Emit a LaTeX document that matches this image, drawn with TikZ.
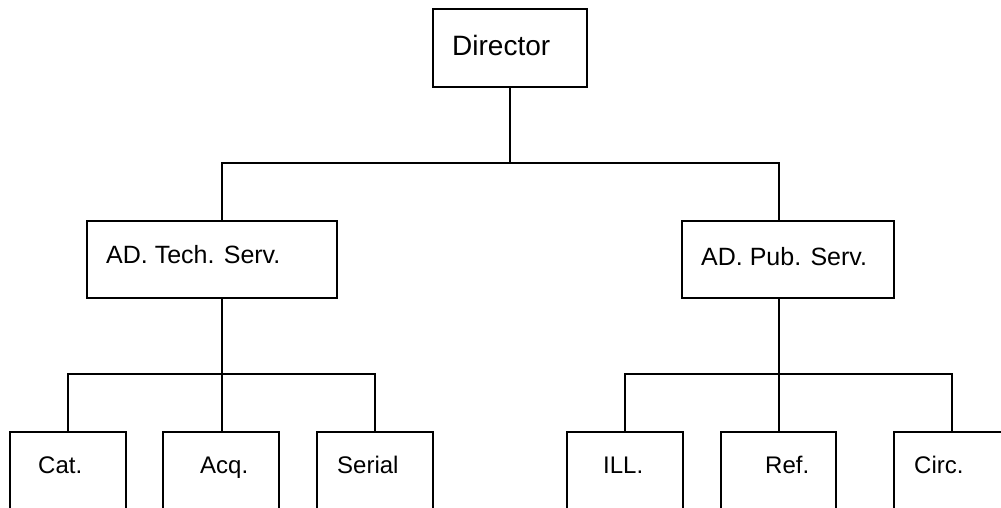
\documentclass[tikz,border=0pt]{standalone}
\usepackage{fontspec}
\setmainfont{Liberation Sans}
\begin{document}
\begin{tikzpicture}[x=1pt,y=-1pt,
  box/.style={draw=black, line width=1.8pt, rectangle, inner sep=0pt, fill=white},
  wire/.style={draw=black, line width=1.8pt},
  lbl/.style={anchor=base west, inner sep=0pt, font=\fontsize{24}{28}\selectfont},
  midlbl/.style={anchor=base west, inner sep=0pt, font=\fontsize{25}{30}\selectfont},
  biglbl/.style={anchor=base west, inner sep=0pt, font=\fontsize{28}{33}\selectfont}]
\useasboundingbox (0,0) rectangle (1001,507);
\clip (0,0) rectangle (1001,507);
% boxes
\node[box, minimum width=154pt, minimum height=78pt] (dir) at (510,48) {};
\node[box, minimum width=250pt, minimum height=77pt] (tech) at (212,259.5) {};
\node[box, minimum width=212pt, minimum height=77pt] (pub) at (788,259.5) {};
\node[box, minimum width=116pt, minimum height=100pt] (cat) at (68,482) {};
\node[box, minimum width=116pt, minimum height=100pt] (acq) at (221,482) {};
\node[box, minimum width=116pt, minimum height=100pt] (ser) at (375,482) {};
\node[box, minimum width=116pt, minimum height=100pt] (ill) at (625,482) {};
\node[box, minimum width=115pt, minimum height=100pt] (ref) at (778.5,482) {};
\node[box, minimum width=116pt, minimum height=100pt] (circ) at (952,482) {};
% labels
\node[biglbl] (tdir) at (452,55) {Director};
\node[midlbl] (ttech) at (106,263) {AD. Tech. Serv.};
\node[midlbl] (tpub) at (701,265) {AD. Pub. Serv.};
\node[lbl] (tcat) at (38,473) {Cat.};
\node[lbl] (tacq) at (200,473) {Acq.};
\node[lbl] (tser) at (337,473) {Serial};
\node[lbl] (till) at (603,473) {ILL.};
\node[lbl] (tref) at (765,473) {Ref.};
\node[lbl] (tcirc) at (914,473) {Circ.};
% junction points
\coordinate (topbar) at (510,163);
\coordinate (tl) at (222,163);
\coordinate (tr) at (779,163);
\coordinate (lbar) at (222,374);
\coordinate (rbar) at (779,374);
% director to assistant directors
\draw[wire] (dir.south) -- (topbar);
\draw[wire] (tech.north -| tl) -- (tl) -- (tr) -- (pub.north -| tr);
% technical services branch
\draw[wire] (tech.south -| lbar) -- (lbar);
\draw[wire] (cat.north) -- (cat.north |- lbar) -- (ser.north |- lbar) -- (ser.north);
\draw[wire] (lbar) -- (acq.north -| lbar);
% public services branch
\draw[wire] (pub.south -| rbar) -- (rbar);
\draw[wire] (ill.north) -- (ill.north |- rbar) -- (circ.north |- rbar) -- (circ.north);
\draw[wire] (rbar) -- (ref.north -| rbar);
\end{tikzpicture}
\end{document}
